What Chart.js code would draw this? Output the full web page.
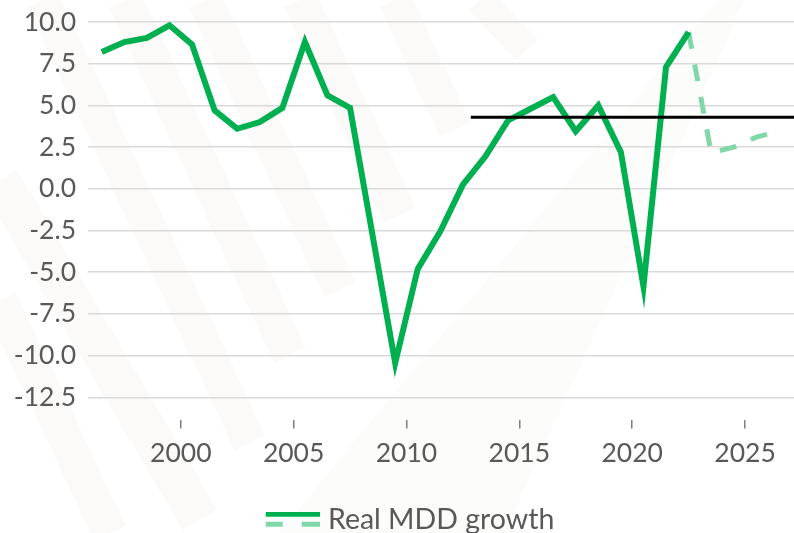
<!DOCTYPE html>
<html><head><meta charset="utf-8">
<script src="https://cdn.jsdelivr.net/npm/chart.js@4.4.1/dist/chart.umd.min.js"></script>
<style>html,body{margin:0;padding:0;overflow:hidden;background:#fff}#wrap{width:794px;height:544px}</style>
</head><body><div id="wrap"><canvas id="c" width="794" height="544"></canvas></div>
<script>
// ---- data ----
const years = [1996,1997,1998,1999,2000,2001,2002,2003,2004,2005,2006,2007,2008,2009,2010,2011,2012,2013,2014,2015,2016,2017,2018,2019,2020,2021,2022];
const growth = [8.2,8.8,9.05,9.8,8.65,4.7,3.6,4.0,4.85,8.8,5.6,4.85,-2.8,-10.45,-4.8,-2.55,0.25,1.95,4.1,4.8,5.5,3.45,5.0,2.2,-5.85,7.3,9.4];
const forecastYears = [2022,2023,2024,2025,2026];
const forecast = [9.4,2.15,2.5,3.1,3.45];
const avgLineYears = [2012.85,2027.2];
const avgLineValues = [4.29,4.29];
const xTickLabels = [2000,2005,2010,2015,2020,2025];
const yTickValues = [-12.5,-10,-7.5,-5,-2.5,0,2.5,5,7.5,10];
const legendLabel = 'Real MDD growth';

const GREEN = '#00b050', LIGHT = '#80d8a8', GREY = '#595959';
const FONT = 'Lato';

// points sit in the middle of each year
const pts = (xs, ys) => xs.map((x,i)=>({x:x+0.5, y:ys[i]}));

// legend swatch image: solid line above, dashed light line below (drawn at the right part of the image)
const sw = document.createElement('canvas');
sw.width = 86; sw.height = 16;
(function(){
  const g = sw.getContext('2d');
  g.fillStyle = GREEN; g.fillRect(32,0,54,5);
  g.fillStyle = LIGHT; g.fillRect(32,10,17,5); g.fillRect(68,10,18,5);
})();

// faint diagonal watermark stripes in the background (decoration only)
const stripes = [
  [43,0,250,443,34],[0,180,200,520,40],[0,300,110,533,35],[125,0,290,355,35],
  [205,0,340,290,35],[300,0,400,215,35],[395,0,455,130,34],[480,0,527,50,30]
];
const bgPlugin = {
  id:'bg',
  beforeDraw(chart){
    const c = chart.ctx;
    c.save();
    c.fillStyle = '#ffffff';
    c.fillRect(0,0,chart.width,chart.height);
    c.fillStyle = '#fcfcfb';
    c.beginPath(); c.moveTo(279,533); c.lineTo(717,0); c.lineTo(745,0); c.lineTo(505,533); c.closePath(); c.fill();
    c.strokeStyle = '#fbfaf8'; c.lineCap = 'butt';
    stripes.forEach(s=>{ c.lineWidth = s[4]; c.beginPath(); c.moveTo(s[0],s[1]); c.lineTo(s[2],s[3]); c.stroke(); });
    c.restore();
  }
};

new Chart(document.getElementById('c'), {
  type:'line',
  data:{
    datasets:[
      {label:legendLabel, data:pts(years,growth), borderColor:GREEN, borderWidth:6, pointRadius:0, tension:0, fill:false, order:2},
      {label:'forecast', data:pts(forecastYears,forecast), borderColor:LIGHT, borderWidth:5, borderDash:[17,16], pointRadius:0, tension:0, fill:false, order:3},
      {label:'average', data:avgLineYears.map((x,i)=>({x, y:avgLineValues[i]})), borderColor:'#000000', borderWidth:3, pointRadius:0, fill:false, order:1}
    ]
  },
  options:{
    responsive:false, animation:false,
    layout:{padding:{left:0, top:22, right:0, bottom:0}},
    plugins:{
      tooltip:{enabled:false},
      legend:{
        position:'bottom', align:'center',
        labels:{
          font:{family:FONT, size:28.5}, color:GREY, padding:16,
          usePointStyle:true, pointStyleWidth:74, boxHeight:16,
          generateLabels:()=>[{text:legendLabel, pointStyle:sw, fillStyle:GREEN, strokeStyle:GREEN, lineWidth:0, hidden:false, datasetIndex:0, fontColor:GREY}]
        }
      }
    },
    scales:{
      x:{
        type:'linear', min:1995.89, max:2027.17,
        afterBuildTicks:s=>{s.ticks = xTickLabels.map(v=>({value:v}));},
        afterFit:s=>{s.height = 70; s.paddingLeft = 0; s.paddingRight = 0;},
        border:{display:false},
        grid:{drawOnChartArea:false, drawTicks:true, tickLength:9, color:'#7f7f7f', lineWidth:1.5},
        ticks:{font:{family:FONT, size:26.5}, color:GREY, padding:9, maxRotation:0, callback:v=>String(v)}
      },
      y:{
        min:-13.83, max:10,
        afterBuildTicks:s=>{s.ticks = yTickValues.map(v=>({value:v}));},
        afterFit:s=>{s.width = 88; s.paddingTop = 0; s.paddingBottom = 0;},
        border:{display:false},
        grid:{color:'#d9d9d9', lineWidth:1.5, drawTicks:false},
        ticks:{font:{family:FONT, size:26.5}, color:GREY, padding:12, callback:v=>v.toFixed(1)}
      }
    }
  },
  plugins:[bgPlugin]
});
</script></body></html>
